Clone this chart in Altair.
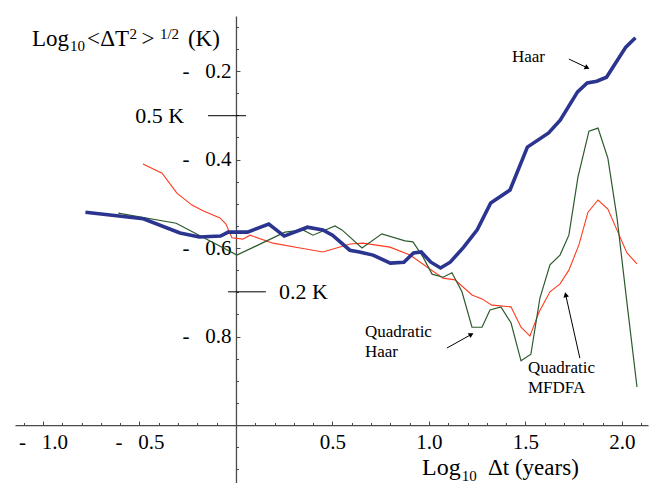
import math
import altair as alt
import pandas as pd

# ---------------- data ----------------
haar_x = [-0.78, -0.48, -0.29, -0.19, -0.08, -0.04, 0.06, 0.17, 0.25, 0.37, 0.45, 0.50,
          0.59, 0.64, 0.71, 0.80, 0.87, 0.92, 0.96, 1.01, 1.06, 1.11, 1.18, 1.25, 1.32,
          1.42, 1.51, 1.62, 1.68, 1.77, 1.82, 1.87, 1.92, 2.02, 2.07]
haar_y = [-0.519, -0.534, -0.566, -0.575, -0.573, -0.564, -0.564, -0.546, -0.573, -0.553,
          -0.559, -0.571, -0.605, -0.609, -0.616, -0.634, -0.632, -0.611, -0.609, -0.632,
          -0.645, -0.632, -0.598, -0.559, -0.498, -0.469, -0.372, -0.340, -0.311, -0.247,
          -0.227, -0.223, -0.214, -0.146, -0.125]

qhaar_x = [-0.61, -0.31, 0.005, 0.135, 0.254, 0.347, 0.399, 0.513, 0.549, 0.653, 0.756,
           0.876, 0.917, 0.969, 1.016, 1.073, 1.119, 1.171, 1.223, 1.275, 1.316, 1.373,
           1.425, 1.477, 1.528, 1.575, 1.627, 1.679, 1.725, 1.772, 1.829, 1.876, 1.927,
           1.974, 2.026, 2.078]
qhaar_y = [-0.521, -0.544, -0.616, -0.589, -0.564, -0.559, -0.571, -0.550, -0.559, -0.600,
           -0.568, -0.584, -0.586, -0.620, -0.659, -0.666, -0.656, -0.699, -0.779, -0.779,
           -0.740, -0.733, -0.769, -0.855, -0.840, -0.713, -0.638, -0.616, -0.571, -0.440,
           -0.336, -0.329, -0.397, -0.530, -0.724, -0.914]

mfdfa_x = [-0.482, -0.383, -0.306, -0.228, -0.171, -0.083, -0.052, -0.021, 0.036, 0.073,
           0.192, 0.332, 0.451, 0.591, 0.658, 0.798, 0.902, 0.990, 1.073, 1.135, 1.223,
           1.275, 1.326, 1.425, 1.477, 1.523, 1.570, 1.627, 1.679, 1.725, 1.777, 1.824,
           1.876, 1.927, 1.974, 2.026, 2.078]
mfdfa_y = [-0.410, -0.431, -0.476, -0.503, -0.516, -0.532, -0.546, -0.577, -0.580, -0.571,
           -0.589, -0.600, -0.609, -0.591, -0.589, -0.598, -0.616, -0.643, -0.668, -0.672,
           -0.706, -0.715, -0.729, -0.733, -0.779, -0.799, -0.745, -0.699, -0.681, -0.650,
           -0.593, -0.519, -0.4915, -0.512, -0.559, -0.611, -0.636]

x_label_values = [-1.0, -0.5, 0.5, 1.0, 1.5, 2.0]
y_label_values = [-0.2, -0.4, -0.6, -0.8]
x_tick_values = [round(-1.1 + 0.1 * i, 2) for i in range(33)]
y_tick_values = [round(-0.1 - 0.05 * i, 3) for i in range(21)]

ref_kelvin = [0.5, 0.2]
ref_text = ["0.5 K", "0.2 K"]

# ---------------- layout ----------------
X_DOM = [-1.145, 2.135]
Y_DOM = [-1.131, -0.0757]
W, H = 633, 467
X_AXIS_AT = -1.0   # y value where the horizontal axis sits
Y_AXIS_AT = 0.0    # x value where the vertical axis sits
FONT = "Liberation Serif"
AXIS_COLOR = "#4a4a4a"

px_x = W / (X_DOM[1] - X_DOM[0])
px_y = H / (Y_DOM[1] - Y_DOM[0])
left_off = -(Y_AXIS_AT - X_DOM[0]) * px_x
right_off = -(X_DOM[1] - Y_AXIS_AT) * px_x
bottom_off = -(X_AXIS_AT - Y_DOM[0]) * px_y
top_off = -(Y_DOM[1] - X_AXIS_AT) * px_y

xs = alt.Scale(domain=X_DOM, nice=False, zero=False)
ys = alt.Scale(domain=Y_DOM, nice=False, zero=False)

NB = "\u00a0"
label_expr = ("datum.value < 0 ? '-" + NB * 3 + "' + format(-datum.value, '.1f') "
              ": format(datum.value, '.1f')")

x_label_axis = alt.Axis(orient="bottom", offset=bottom_off, values=x_label_values,
                        ticks=False, tickSize=0, domain=True, domainColor=AXIS_COLOR,
                        domainWidth=1.3, labelExpr=label_expr, labelFont=FONT,
                        labelFontSize=21, labelColor="black", labelPadding=6,
                        labelFlush=False, labelOverlap=False, grid=False, title=None)
y_label_axis = alt.Axis(orient="left", offset=left_off, values=y_label_values,
                        ticks=False, tickSize=0, domain=True, domainColor=AXIS_COLOR,
                        domainWidth=1.3, labelExpr=label_expr, labelFont=FONT,
                        labelFontSize=21, labelColor="black", labelPadding=5,
                        labelBaseline="middle", labelFlush=False, labelOverlap=False,
                        grid=False, title=None)
x_tick_axis = alt.Axis(orient="top", offset=top_off, values=x_tick_values, labels=False,
                       domain=False, ticks=True, tickColor=AXIS_COLOR, tickWidth=1,
                       tickSize={"condition": {"test": "abs(datum.value*2 - round(datum.value*2)) < 0.001",
                                               "value": 4}, "value": 2.5},
                       grid=False, title=None)
y_tick_axis = alt.Axis(orient="right", offset=right_off, values=y_tick_values, labels=False,
                       domain=False, ticks=True, tickColor=AXIS_COLOR, tickWidth=1,
                       tickSize={"condition": {"test": "abs(datum.value*5 - round(datum.value*5)) < 0.001",
                                               "value": 4}, "value": 2.5},
                       grid=False, title=None)

df_h = pd.DataFrame({"x": haar_x, "y": haar_y})
df_q = pd.DataFrame({"x": qhaar_x, "y": qhaar_y})
df_m = pd.DataFrame({"x": mfdfa_x, "y": mfdfa_y})


def X(field="x", axis=None):
    return alt.X(f"{field}:Q", scale=xs, axis=axis)


def Y(field="y", axis=None):
    return alt.Y(f"{field}:Q", scale=ys, axis=axis)


ticks_layer = alt.Chart(df_h).mark_point(opacity=0).encode(
    x=X(axis=x_tick_axis), y=Y(axis=y_tick_axis))

red = alt.Chart(df_m).mark_line(color="#ff3b1f", strokeWidth=1.1).encode(x=X(), y=Y())
green = alt.Chart(df_q).mark_line(color="#2d5a2d", strokeWidth=1.2).encode(x=X(), y=Y())
blue = alt.Chart(df_h).mark_line(color="#2b3590", strokeWidth=3.6).encode(
    x=X(axis=x_label_axis), y=Y(axis=y_label_axis))

# reference marks 0.5 K and 0.2 K
ref_df = pd.DataFrame({"k": ref_kelvin, "label": ref_text,
                       "x0": [-0.145, -0.041], "x1": [0.052, 0.155],
                       "tx": [-0.269, 0.223]})
ref_base = alt.Chart(ref_df).transform_calculate(ly="log(datum.k)/LN10")
ref_rules = ref_base.mark_rule(color="black", strokeWidth=1).encode(
    x=X("x0"), x2="x1:Q", y=Y("ly"))
ref_lab_l = ref_base.transform_filter("datum.k > 0.3").mark_text(
    align="right", baseline="middle", font=FONT, fontSize=22, color="black").encode(
    x=X("tx"), y=Y("ly"), text="label:N")
ref_lab_r = ref_base.transform_filter("datum.k < 0.3").mark_text(
    align="left", baseline="middle", font=FONT, fontSize=22, color="black").encode(
    x=X("tx"), y=Y("ly"), text="label:N")

# axis titles built from pieces (sub/superscripts)
title_df = pd.DataFrame({
    "t": ["Log", "10", "<", "\u0394T", "2", ">", "1/2", "(K)",
          "Log", "10", "\u0394t (years)"],
    "x": [-1.057, -0.860, -0.772, -0.703, -0.552, -0.490, -0.394, -0.249,
          0.964, 1.170, 1.306],
    "y": [-0.1435, -0.1548, -0.1435, -0.1435, -0.128, -0.1435, -0.128, -0.1435,
          -1.113, -1.127, -1.113],
    "fs": [23, 15, 23, 23, 15, 23, 15, 23, 24, 15, 23],
})
titles = alt.Chart(title_df).mark_text(align="left", baseline="alphabetic", font=FONT,
                                       color="black").encode(
    x=X(), y=Y(), text="t:N", size=alt.Size("fs:Q", scale=None, legend=None))

# annotations
ann_df = pd.DataFrame({
    "t": ["Haar", "Quadratic", "Haar", "Quadratic", "MFDFA"],
    "x": [1.430, 0.668, 0.668, 1.513, 1.513],
    "y": [-0.168, -0.790, -0.835, -0.871, -0.916],
})
ann = alt.Chart(ann_df).mark_text(align="left", baseline="middle", font=FONT, fontSize=17,
                                  color="black").encode(x=X(), y=Y(), text="t:N")

arrows = [(1.725, -0.173, 1.834, -0.1955),
          (1.093, -0.826, 1.233, -0.792),
          (1.782, -0.849, 1.705, -0.699)]
rows = []
for x0, y0, x1, y1 in arrows:
    dxp = (x1 - x0) * px_x
    dyp = -(y1 - y0) * px_y
    ln = math.hypot(dxp, dyp)
    ux, uy = dxp / ln, dyp / ln
    ang = math.degrees(math.atan2(dxp, -dyp)) % 360
    rows.append({"x0": x0, "y0": y0, "x1": x1 - 3 * ux / px_x, "y1": y1 + 3 * uy / px_y,
                 "hx": x1 - 3 * ux / px_x, "hy": y1 + 3 * uy / px_y, "ang": ang})
arr_df = pd.DataFrame(rows)
arr_lines = alt.Chart(arr_df).mark_rule(color="black", strokeWidth=1).encode(
    x=X("x0"), y=Y("y0"), x2="x1:Q", y2="y1:Q")
arr_heads = alt.Chart(arr_df).mark_point(shape="triangle-up", filled=True, color="black",
                                         size=32, opacity=1).encode(
    x=X("hx"), y=Y("hy"), angle=alt.Angle("ang:Q", scale=None))

chart = alt.layer(
    ticks_layer, red, green, blue, ref_rules, ref_lab_l, ref_lab_r, titles, ann,
    arr_lines, arr_heads
).resolve_axis(x="independent", y="independent").properties(
    width=W, height=H,
    autosize=alt.AutoSizeParams(type="none"),
    padding={"left": 7, "top": 8, "right": 5, "bottom": 0},
    background="white",
).configure_view(stroke=None)

chart.save("out.html", embed_options={"renderer": "svg", "actions": False})
